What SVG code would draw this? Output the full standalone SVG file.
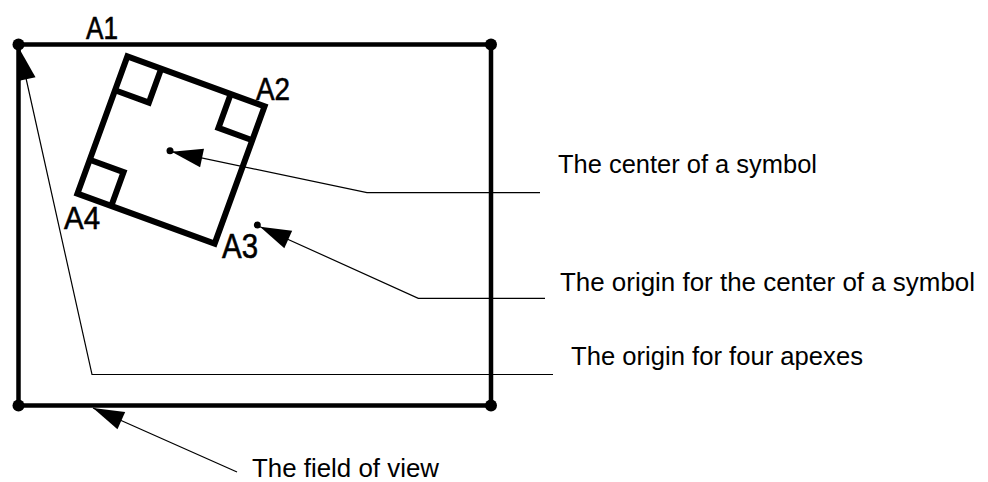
<svg xmlns="http://www.w3.org/2000/svg" width="988" height="482" viewBox="0 0 988 482">
<style>
.frame{fill:none;stroke:#000;stroke-width:4.5}
.sym{fill:none;stroke:#000;stroke-width:6;stroke-linejoin:miter}
.lead{fill:none;stroke:#000;stroke-width:1.2;marker-start:url(#ah)}
.lbl{font-family:"Liberation Sans",Arial,sans-serif;font-size:26.5px;fill:#000}
.apx{font-family:"Liberation Sans",Arial,sans-serif;fill:#000;stroke:#000;stroke-width:0.6}
</style>
<defs>
<marker id="ah" markerUnits="userSpaceOnUse" orient="auto-start-reverse" refX="0" refY="0" markerWidth="40" markerHeight="24" overflow="visible">
<path d="M0,0 L-31,-9.5 L-31,9.5 Z" fill="#000"/>
</marker>
</defs>
<rect width="988" height="482" fill="#fff"/>
<g id="field">
<rect class="frame" x="18.5" y="44.5" width="472.5" height="361"/>
<circle cx="18.5" cy="44.5" r="6"/>
<circle cx="491" cy="44.5" r="6"/>
<circle cx="18.5" cy="405.5" r="6"/>
<circle cx="491" cy="405.5" r="6"/>
</g>
<g id="symbol">
<g transform="translate(171,150) rotate(20)">
<rect class="sym" x="-73" y="-73" width="146" height="146"/>
<path class="sym" d="M-37,-73 L-37,-37 L-73,-37"/>
<path class="sym" d="M37,-73 L37,-37 L73,-37"/>
<path class="sym" d="M-73,37 L-37,37 L-37,73"/>
</g>
<circle cx="170" cy="150.7" r="3.5"/>
<circle cx="257.3" cy="225" r="3.5"/>
</g>
<g id="apex-labels">
<text class="apx" x="86" y="39" font-size="31" textLength="32" lengthAdjust="spacingAndGlyphs">A1</text>
<text class="apx" x="256" y="99.5" font-size="32" textLength="34" lengthAdjust="spacingAndGlyphs">A2</text>
<text class="apx" x="222" y="257.5" font-size="35" textLength="36" lengthAdjust="spacingAndGlyphs">A3</text>
<text class="apx" x="64" y="228.5" font-size="32" textLength="36" lengthAdjust="spacingAndGlyphs">A4</text>
</g>
<g id="connectors">
<path class="lead" d="M171.7,151.7 L367,192.7 L540,192.7"/>
<path class="lead" d="M260,226.7 L418.3,298.3 L545,298.3"/>
<path class="lead" d="M19.5,49 L92,374.5 L553,374.5"/>
<path class="lead" d="M93,408 L237,472"/>
</g>
<g id="labels">
<text class="lbl" x="558" y="172.7" textLength="259" lengthAdjust="spacingAndGlyphs">The center of a symbol</text>
<text class="lbl" x="560" y="290.7" textLength="415" lengthAdjust="spacingAndGlyphs">The origin for the center of a symbol</text>
<text class="lbl" x="571" y="365" textLength="292" lengthAdjust="spacingAndGlyphs">The origin for four apexes</text>
<text class="lbl" x="252" y="476.5" textLength="187" lengthAdjust="spacingAndGlyphs">The field of view</text>
</g>
</svg>
